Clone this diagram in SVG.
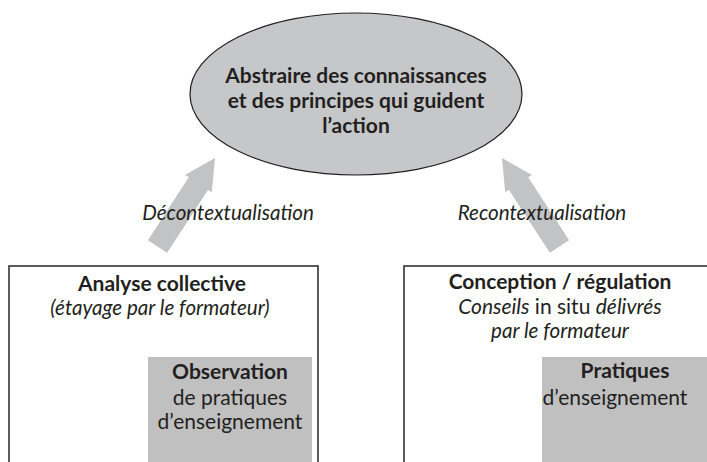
<svg xmlns="http://www.w3.org/2000/svg" width="707" height="462" viewBox="0 0 707 462">
  <style>
    text { font-family: Lato, "Open Sans", sans-serif; fill: #231f20; text-anchor: middle; }
    .b { font-weight: bold; font-size: 21px; }
    .r { font-size: 21px; }
    .i { font-style: italic; font-size: 20.6px; }
    .frame { fill: #ffffff; stroke: #333333; stroke-width: 1.6; }
    .panel { fill: #c0c0c1; }
    .arrow { fill: #c2c3c5; }
  </style>

  <rect width="707" height="462" fill="#ffffff"/>

  <!-- broad arrows between the practice boxes and the goal -->
  <g id="connectors">
    <polygon class="arrow" points="215,158 211.8,192.3 208,189.9 167.1,252.8 147.9,240.2 188.8,177.3 185,174.9"/>
    <polygon class="arrow" points="502,158 505.2,192.3 509,189.9 549.9,252.8 569.1,240.2 528.2,177.3 532,174.9"/>
    <text class="i" x="228" y="220">Décontextualisation</text>
    <text class="i" x="542" y="220">Recontextualisation</text>
  </g>

  <g id="goal">
    <ellipse cx="356" cy="94" rx="166" ry="81" fill="#c6c7c9" stroke="#231f20" stroke-width="1.2"/>
    <text class="b" x="356" y="83">Abstraire des connaissances</text>
    <text class="b" x="356" y="108">et des principes qui guident</text>
    <text class="b" x="356" y="133">l’action</text>
  </g>

  <g id="analyse">
    <rect class="frame" x="9" y="266" width="309" height="210"/>
    <text class="b" x="162" y="291">Analyse collective</text>
    <text class="i" x="160" y="315" font-size="21.4px">(étayage par le formateur)</text>
  </g>

  <g id="observation">
    <rect class="panel" x="148" y="357" width="164" height="110"/>
    <text class="b" x="230" y="379">Observation</text>
    <text class="r" x="230" y="405">de pratiques</text>
    <text class="r" x="230" y="429">d’enseignement</text>
  </g>

  <g id="conception">
    <rect class="frame" x="404" y="266" width="320" height="210"/>
    <text class="b" x="560" y="289">Conception / régulation</text>
    <text class="r" x="560" y="313.5" font-size="20.5px"><tspan font-style="italic">Conseils</tspan> in situ <tspan font-style="italic">délivrés</tspan></text>
    <text class="i" x="560" y="338" font-size="21px">par le formateur</text>
  </g>

  <g id="pratiques">
    <rect class="panel" x="542" y="357" width="175" height="110"/>
    <text class="b" x="625" y="378">Pratiques</text>
    <text class="r" x="615" y="405">d’enseignement</text>
  </g>
</svg>
